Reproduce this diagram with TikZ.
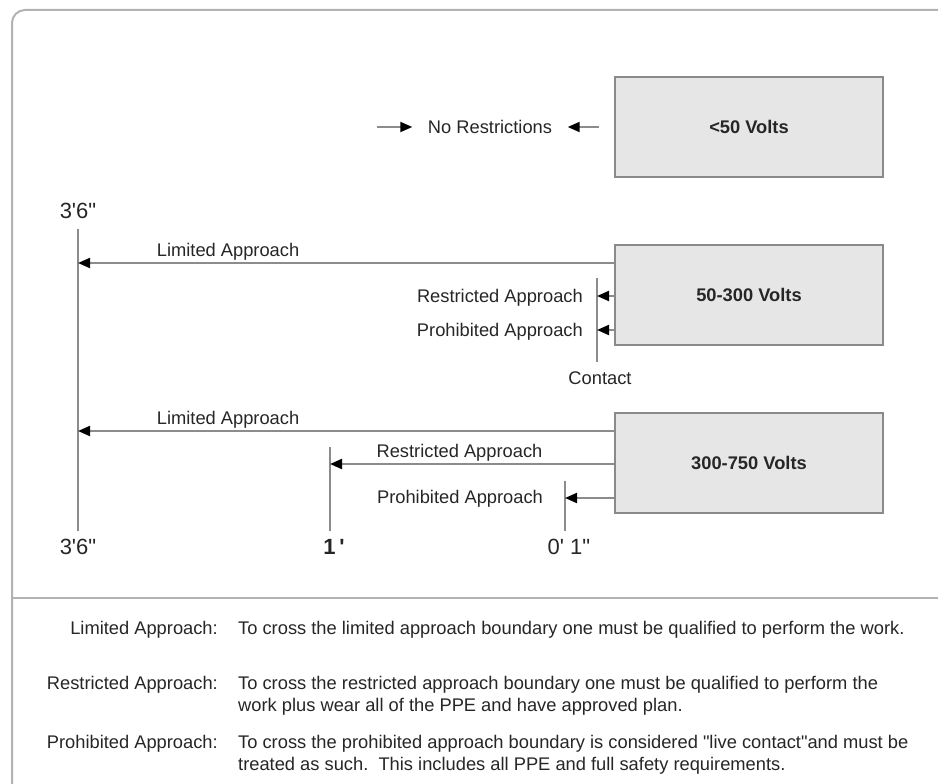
\documentclass[tikz,border=0pt]{standalone}
\usepackage{fontspec}
\setmainfont{Liberation Sans}[Ligatures=TeXOff]
\usepackage{tikz}
\usetikzlibrary{arrows.meta,positioning,calc}
\definecolor{ink}{HTML}{262626}
\definecolor{boxfill}{HTML}{E6E6E6}
\definecolor{boxline}{HTML}{8A8A8A}
\definecolor{wireline}{HTML}{8C8C8C}
\definecolor{frameline}{HTML}{B2B2B2}

\begin{document}
\begin{tikzpicture}[x=1pt, y=-1pt, >={Triangle[length=12pt,width=10pt,color=black]}, node distance=168pt, text=ink, font=\fontsize{18.3}{22}\selectfont]
\tikzstyle{volts}=[draw=boxline,fill=boxfill,line width=2pt,minimum width=268pt,minimum height=100pt,font=\fontsize{18.3}{22}\selectfont\bfseries]
\tikzstyle{wire}=[draw=wireline,line width=2pt]
\tikzstyle{lbl}=[inner sep=0pt]
\tikzstyle{over}=[lbl,anchor=base,yshift=6.5pt]
\tikzstyle{dist}=[lbl,font=\fontsize{22}{24}\selectfont]
\useasboundingbox (0,0) rectangle (938,784);
\draw[frameline,line width=2pt,rounded corners=13pt] (12,10) rectangle (980,820);
\draw[frameline,line width=2pt] (12,598) -- (938,598);

\node[volts]    (v50)    at (749,127)     {<50 Volts};
\node[volts]    (v300)[below of=v50]      {50-300 Volts};
\node[volts]    (v750)[below of=v300]     {300-750 Volts};
\node[lbl,inner xsep=15.5pt] (free) at (490,127) {No Restrictions};
\coordinate (nrl) at (377,127);

\coordinate (fartop)  at (78,229);
\coordinate (farbot)  at (78,531);
\coordinate (onetop)  at (330,447);
\coordinate (onebot)  at (330,531);
\coordinate (inchtop) at (565,481);
\coordinate (inchbot) at (565,531);
\coordinate (contop)  at (597,278);
\coordinate (conbot)  at (597,362);

\coordinate (lim300) at (78,263);
\coordinate (res300) at (597,296);
\coordinate (pro300) at (597,330);
\coordinate (lim750) at (78,431);
\coordinate (res750) at (330,464);
\coordinate (pro750) at (565,498);

\draw[wire] (fartop) -- (farbot);
\draw[wire] (onetop) -- (onebot);
\draw[wire] (inchtop) -- (inchbot);
\draw[wire] (contop) -- (conbot);

\path[->, every edge/.style={wire}]
(nrl) edge (free.west)
(v50) edge[shorten <=15pt] (free)
(v300.west |- lim300) edge node[over,pos=0.72]{Limited Approach} (lim300)
(v300.west |- res300) edge (res300)
(v300.west |- pro300) edge (pro300)
(v750.west |- lim750) edge node[over,pos=0.72]{Limited Approach} (lim750)
(v750.west |- res750) edge node[over,pos=0.544]{Restricted Approach} (res750)
(v750.west |- pro750) edge (pro750)
;

\node[lbl,anchor=base east] (res300l) at (583,302.5) {Restricted Approach};
\node[lbl,anchor=base east] (pro300l) at (583,336.5) {Prohibited Approach};
\node[lbl,anchor=base]      (contact) at (600,384.5) {Contact};
\node[lbl,anchor=base]      (pro750l) at (460,503.5) {Prohibited Approach};

\node[dist,above=10pt of fartop]       {3'6"};
\node[dist,below=8pt of farbot]        {3'6"};
\node[dist,below=8pt of onebot,xshift=4pt] {\bfseries 1\,'};
\node[dist,below=8pt of inchbot,xshift=4pt] {0' 1"};

\node[lbl,anchor=base east] (klim) at (218,634.5) {Limited Approach:};
\node[lbl,anchor=base west] (dlim) at (238,634.5) {To cross the limited approach boundary one must be qualified to perform the work.};
\node[lbl,anchor=base east] (kres) at (218,689.5) {Restricted Approach:};
\node[lbl,anchor=north west,align=left] (dres) at (238,676.2) {To cross the restricted approach boundary one must be qualified to perform the\\work plus wear all of the PPE and have approved plan.};
\node[lbl,anchor=base east] (kpro) at (218,748.5) {Prohibited Approach:};
\node[lbl,anchor=north west,align=left] (dpro) at (238,735.2) {To cross the prohibited approach boundary is considered "live contact"and must be\\treated as such.\ \ This includes all PPE and full safety requirements.};
\end{tikzpicture}
\end{document}
